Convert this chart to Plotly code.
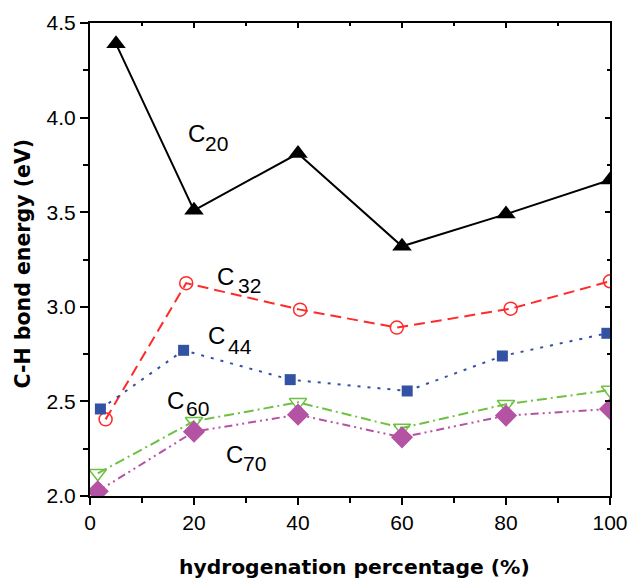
import plotly.graph_objects as go

x_c20 = [5, 20, 40, 60, 80, 100]
y_c20 = [4.39, 3.51, 3.81, 3.32, 3.49, 3.67]

x_c32 = [3, 18.5, 40.4, 59, 80.9, 100]
y_c32 = [2.405, 3.125, 2.985, 2.89, 2.99, 3.135]

x_c44 = [2, 18, 38.5, 61, 79.3, 99.4]
y_c44 = [2.46, 2.77, 2.615, 2.555, 2.74, 2.86]

x_c60 = [1.5, 20, 40, 60, 80, 100]
y_c60 = [2.12, 2.395, 2.495, 2.36, 2.485, 2.56]

x_c70 = [1.5, 20, 40, 60, 80, 100]
y_c70 = [2.025, 2.34, 2.43, 2.31, 2.425, 2.46]

# series labels: main letter and subscript number
label_main = ["C", "C", "C", "C", "C"]
label_sub = ["20", "32", "44", "60", "70"]
main_x = [20.5, 26.1, 24.4, 16.4, 27.7]
main_y = [3.916, 3.16, 2.846, 2.507, 2.217]
sub_x = [24.4, 30.7, 28.9, 20.7, 31.7]
sub_y = [3.863, 3.113, 2.79, 2.462, 2.172]

x_title = "hydrogenation percentage (%)"
y_title = "C-H bond energy (eV)"

FONT = "Liberation Sans, Arial, sans-serif"
BOLD = "DejaVu Sans, sans-serif"

fig = go.Figure()
fig.add_trace(go.Scatter(x=x_c20, y=y_c20, mode="lines+markers",
                         line=dict(color="black", width=2),
                         marker=dict(symbol="triangle-up", size=17, color="black")))
fig.add_trace(go.Scatter(x=x_c32, y=y_c32, mode="lines+markers",
                         line=dict(color="#FF2A2A", width=2, dash="11px,6px"),
                         marker=dict(symbol="circle-open", size=13, color="#FF2A2A", line=dict(width=1.5))))
fig.add_trace(go.Scatter(x=x_c44, y=y_c44, mode="lines+markers",
                         line=dict(color="#3452A4", width=2, dash="3px,7px"),
                         marker=dict(symbol="square", size=11, color="#3452A4")))
fig.add_trace(go.Scatter(x=x_c60, y=y_c60, mode="lines+markers",
                         line=dict(color="#6EC043", width=2, dash="10px,4px,2px,4px"),
                         marker=dict(symbol="triangle-down-open", size=15, color="#6EC043", line=dict(width=1.5))))
fig.add_trace(go.Scatter(x=x_c70, y=y_c70, mode="lines+markers",
                         line=dict(color="#B452A4", width=2, dash="8px,4px,2px,4px,2px,4px"),
                         marker=dict(symbol="diamond", size=17, color="#B452A4")))

for t, lx, ly in zip(label_main, main_x, main_y):
    fig.add_annotation(x=lx, y=ly, text=t, showarrow=False,
                       font=dict(family=FONT, size=24, color="black"))
for t, lx, ly in zip(label_sub, sub_x, sub_y):
    fig.add_annotation(x=lx, y=ly, text=t, showarrow=False,
                       font=dict(family=FONT, size=21, color="black"))

# axis titles
fig.add_annotation(xref="paper", yref="paper", x=0.5096, y=0, yanchor="top", yshift=-57,
                   text="<b>" + x_title + "</b>", showarrow=False,
                   font=dict(family=BOLD, size=20.3, color="black"))
fig.add_annotation(xref="paper", yref="paper", x=0, y=0.4915, xanchor="center", yanchor="middle",
                   xshift=-67, textangle=-90,
                   text="<b>" + y_title + "</b>", showarrow=False,
                   font=dict(family=BOLD, size=20.5, color="black"))

axis_common = dict(showline=True, linecolor="black", linewidth=2, showgrid=False, zeroline=False,
                   automargin=False)

fig.update_layout(
    width=629, height=581,
    margin=dict(l=90, r=19, t=23, b=85),
    paper_bgcolor="white", plot_bgcolor="white",
    showlegend=False,
    font=dict(family=FONT, color="black"),
    xaxis=dict(range=[0, 100], tickvals=[0, 20, 40, 60, 80, 100], ticks="outside", ticklen=7,
               tickwidth=1.5, tickcolor="black", tickfont=dict(size=21, family=FONT),
               minor=dict(tickvals=[10, 30, 50, 70, 90], ticks="outside", ticklen=5, tickwidth=1.5, tickcolor="black"),
               mirror=True, **axis_common),
    yaxis=dict(range=[2.0, 4.5], tickvals=[2.0, 2.5, 3.0, 3.5, 4.0, 4.5], tickformat=".1f", ticks="outside",
               ticklen=8, tickwidth=1.5, tickcolor="black", tickfont=dict(size=21, family=FONT),
               minor=dict(tickvals=[2.25, 2.75, 3.25, 3.75, 4.25], ticks="outside", ticklen=5, tickwidth=1.5, tickcolor="black"),
               mirror=True, **axis_common),
    xaxis2=dict(overlaying="x", side="top", range=[0, 100], tickvals=[0, 20, 40, 60, 80, 100],
                ticks="inside", ticklen=5, tickwidth=1.5, tickcolor="black", showticklabels=False,
                minor=dict(tickvals=[10, 30, 50, 70, 90], ticks="inside", ticklen=3, tickwidth=1.5, tickcolor="black"),
                showgrid=False, zeroline=False, showline=False),
    yaxis2=dict(overlaying="y", side="right", range=[2.0, 4.5], tickvals=[2.0, 2.5, 3.0, 3.5, 4.0, 4.5],
                ticks="inside", ticklen=5, tickwidth=1.5, tickcolor="black", showticklabels=False,
                minor=dict(tickvals=[2.25, 2.75, 3.25, 3.75, 4.25], ticks="inside", ticklen=3, tickwidth=1.5, tickcolor="black"),
                showgrid=False, zeroline=False, showline=False),
)
fig.add_trace(go.Scatter(x=[None], y=[None], xaxis="x2", yaxis="y2", showlegend=False, hoverinfo="skip"))

fig.write_html("out.html")
